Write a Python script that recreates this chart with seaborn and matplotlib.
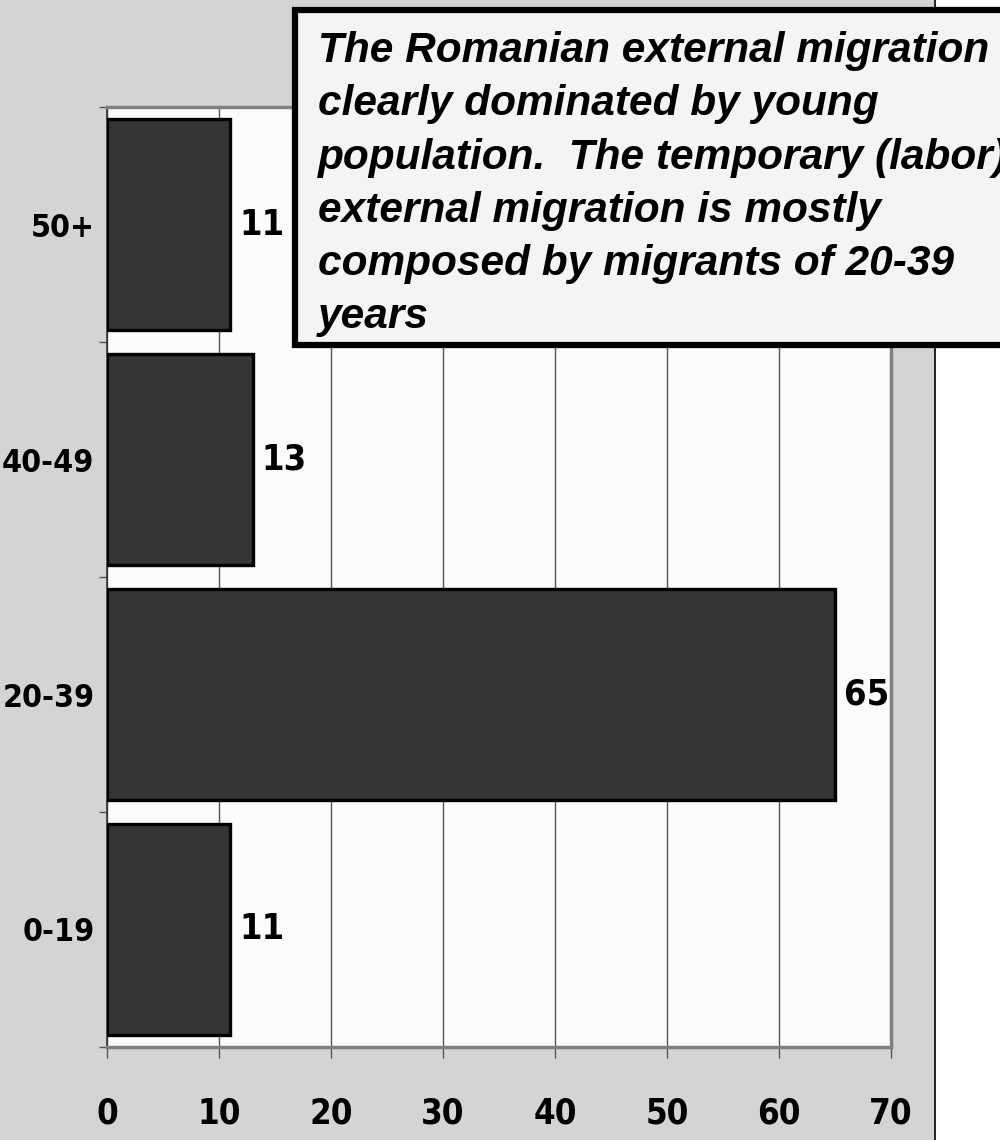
import matplotlib
matplotlib.use('Agg')
import matplotlib.pyplot as plt
import seaborn as sns
import pandas as pd
from matplotlib.patches import Rectangle
from matplotlib.lines import Line2D
from matplotlib.ticker import FixedLocator

age_groups = ['50+', '40-49', '20-39', '0-19']
shares = [11, 13, 65, 11]
x_ticks = [0, 10, 20, 30, 40, 50, 60, 70]
note_lines = [
    'The Romanian external migration is',
    'clearly dominated by young',
    'population.  The temporary (labor)',
    'external migration is mostly',
    'composed by migrants of 20-39',
    'years',
]

df = pd.DataFrame({'age': age_groups, 'share': shares})

sns.set_style('white')
plt.rcParams['font.family'] = ['DejaVu Sans']
plt.rcParams['text.color'] = 'black'
plt.rcParams['xtick.color'] = 'black'
plt.rcParams['ytick.color'] = 'black'

fig = plt.figure(figsize=(10, 11.4), dpi=100, facecolor='#d4d4d4')
ax = fig.add_axes([0.107, 0.0816, 0.784, 0.8245])
ax.set_facecolor('#fbfbfb')

# white strip at right and separator line
fig.patches.append(Rectangle((0.935, 0), 0.1, 1, transform=fig.transFigure,
                             facecolor='white', edgecolor='none', zorder=0))
fig.lines.append(Line2D([0.935, 0.935], [0, 1], transform=fig.transFigure,
                        color='black', lw=1.2))

sns.barplot(data=df, x='share', y='age', order=age_groups, orient='h',
            color='#353535', edgecolor='black', linewidth=2.4, width=0.9,
            saturation=1, ax=ax, zorder=3)

ax.set_xlim(0, 70)
ax.set_ylim(3.5, -0.5)
ax.set_xticks(x_ticks)
ax.xaxis.grid(True, color='#555555', lw=1.0, zorder=0)
ax.set_axisbelow(True)
ax.set_xlabel('')
ax.set_ylabel('')

# tick marks sit on the category boundaries, labels in the middle
ax.yaxis.set_minor_locator(FixedLocator([-0.5, 0.5, 1.5, 2.5, 3.5]))
ax.tick_params(axis='y', which='major', length=0, pad=9)
ax.tick_params(axis='y', which='minor', length=6, width=1, color='#555555', left=True)
ax.tick_params(axis='x', which='major', length=8, width=1, color='#555555', bottom=True, pad=28)

for lab in ax.get_yticklabels():
    lab.set_fontsize(23)
    lab.set_fontweight('bold')
    lab.set_fontstretch('condensed')
for lab in ax.get_xticklabels():
    lab.set_fontsize(25)
    lab.set_fontweight('bold')
    lab.set_fontstretch('condensed')

for side in ['top', 'right', 'bottom']:
    ax.spines[side].set_color('#808080')
    ax.spines[side].set_linewidth(2.5)
ax.spines['left'].set_color('#333333')
ax.spines['left'].set_linewidth(1.2)

for i, v in enumerate(shares):
    ax.text(v + 0.8, i, str(v), va='center', ha='left', fontsize=26,
            fontweight='bold', fontstretch='condensed', zorder=4)

# annotation box, running off the right edge
fig.patches.append(Rectangle((0.295, 1 - 345 / 1140), 0.8, 335 / 1140,
                             transform=fig.transFigure, facecolor='#f4f4f4',
                             edgecolor='black', lw=4.5, zorder=5))
for k, line in enumerate(note_lines):
    fig.text(0.318, 1 - (51 + k * 53.3) / 1140, line, fontsize=30.5,
             fontweight='bold', fontstyle='italic', va='center', ha='left',
             family=['Liberation Sans', 'DejaVu Sans'], zorder=6)

fig.savefig('out.png', dpi=100, facecolor=fig.get_facecolor())
